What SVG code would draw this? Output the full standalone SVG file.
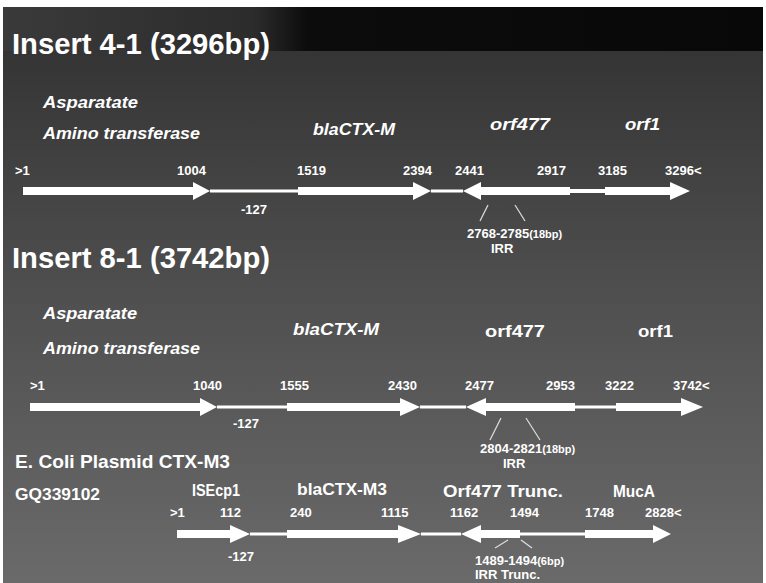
<svg xmlns="http://www.w3.org/2000/svg" width="766" height="583" viewBox="0 0 766 583">
<defs>
<linearGradient id="bg" x1="0" y1="0" x2="0" y2="1">
<stop offset="0" stop-color="#303030"/>
<stop offset="0.5" stop-color="#4f4f4f"/>
<stop offset="1" stop-color="#6a6a6a"/>
</linearGradient>
<linearGradient id="band" x1="0" y1="0" x2="1" y2="0">
<stop offset="0" stop-color="#3a3a3a"/>
<stop offset="0.33" stop-color="#2c2c2c"/>
<stop offset="0.4" stop-color="#0c0c0c"/>
<stop offset="1" stop-color="#080808"/>
</linearGradient>
<style>
text{font-family:"Liberation Sans",Arial,sans-serif;font-weight:bold;fill:#fff}
.title{font-size:29px}
.lab{font-size:16px}
.it{font-style:italic}
.num{font-size:13px}
.small{font-size:11px}
.thin{fill:#fff}
.arr{fill:#fff}
.irr{stroke:#ddd;stroke-width:1.2;fill:none}
</style>
</defs>
<rect x="0" y="0" width="766" height="583" fill="#fff"/>
<rect x="3" y="7" width="760" height="576" fill="url(#bg)"/>
<rect x="3" y="7" width="760" height="44" fill="url(#band)"/>

<g id="insert-4-1">
<text class="title" x="12" y="54" textLength="258" lengthAdjust="spacingAndGlyphs">Insert 4-1 (3296bp)</text>
<text class="lab it" x="43" y="108" textLength="95" lengthAdjust="spacingAndGlyphs">Asparatate</text>
<text class="lab it" x="43" y="139" textLength="157" lengthAdjust="spacingAndGlyphs">Amino transferase</text>
<text class="lab it" x="313" y="135" textLength="82" lengthAdjust="spacingAndGlyphs">blaCTX-M</text>
<text class="lab it" x="490" y="130" textLength="60" lengthAdjust="spacingAndGlyphs">orf477</text>
<text class="lab it" x="625" y="130" textLength="35" lengthAdjust="spacingAndGlyphs">orf1</text>
<g class="nums">
<text class="num" x="15" y="175">&gt;1</text>
<text class="num" x="177" y="175">1004</text>
<text class="num" x="297" y="175">1519</text>
<text class="num" x="403" y="175">2394</text>
<text class="num" x="455" y="175">2441</text>
<text class="num" x="537" y="175">2917</text>
<text class="num" x="598" y="175">3185</text>
<text class="num" x="665" y="175">3296&lt;</text>
</g>
<g class="connectors">
<polygon class="arr" points="23,187 193,187 193,182 210,191 193,200 193,195 23,195"/>
<rect class="thin" x="210" y="189.5" width="88" height="3"/>
<polygon class="arr" points="298,187 413,187 413,182 431,191 413,200 413,195 298,195"/>
<rect class="thin" x="431" y="189.5" width="32" height="3"/>
<polygon class="arr" points="463,191 481,182 481,187 570,187 570,195 481,195 481,200"/>
<rect class="thin" x="570" y="189" width="35" height="4"/>
<polygon class="arr" points="605,187 670,187 670,182 690,191 670,200 670,195 605,195"/>
<line class="irr" x1="488" y1="205" x2="480" y2="221"/>
<line class="irr" x1="515" y1="205" x2="525" y2="221"/>
</g>
<text class="num" x="241" y="214">-127</text>
<text class="num" x="467" y="238">2768-2785<tspan class="small">(18bp)</tspan></text>
<text class="num" x="491" y="253">IRR</text>
</g>

<g id="insert-8-1">
<text class="title" x="12" y="268" textLength="258" lengthAdjust="spacingAndGlyphs">Insert 8-1 (3742bp)</text>
<text class="lab it" x="43" y="319" textLength="94" lengthAdjust="spacingAndGlyphs">Asparatate</text>
<text class="lab it" x="43" y="354" textLength="157" lengthAdjust="spacingAndGlyphs">Amino transferase</text>
<text class="lab it" x="293" y="335" textLength="86" lengthAdjust="spacingAndGlyphs">blaCTX-M</text>
<text class="lab" x="485" y="337" textLength="60" lengthAdjust="spacingAndGlyphs">orf477</text>
<text class="lab" x="638" y="337" textLength="35" lengthAdjust="spacingAndGlyphs">orf1</text>
<g class="nums">
<text class="num" x="30" y="390">&gt;1</text>
<text class="num" x="193" y="390">1040</text>
<text class="num" x="280" y="390">1555</text>
<text class="num" x="388" y="390">2430</text>
<text class="num" x="465" y="390">2477</text>
<text class="num" x="546" y="390">2953</text>
<text class="num" x="605" y="390">3222</text>
<text class="num" x="673" y="390">3742&lt;</text>
</g>
<g class="connectors">
<polygon class="arr" points="30,403 200,403 200,398 217,407 200,416 200,411 30,411"/>
<rect class="thin" x="217" y="405.5" width="70" height="3"/>
<polygon class="arr" points="287,403 400,403 400,398 420,407 400,416 400,411 287,411"/>
<rect class="thin" x="420" y="405.5" width="46" height="3"/>
<polygon class="arr" points="466,407 486,398 486,403 575,403 575,411 486,411 486,416"/>
<rect class="thin" x="575" y="405.5" width="41" height="3"/>
<polygon class="arr" points="616,403 681,403 681,398 703,407 681,416 681,411 616,411"/>
<line class="irr" x1="501" y1="418" x2="490" y2="440"/>
<line class="irr" x1="526" y1="418" x2="540" y2="440"/>
</g>
<text class="num" x="233" y="428">-127</text>
<text class="num" x="480" y="453">2804-2821<tspan class="small">(18bp)</tspan></text>
<text class="num" x="503" y="468">IRR</text>
</g>

<g id="plasmid-ctx-m3">
<text x="15" y="468" style="font-size:19px" textLength="215" lengthAdjust="spacingAndGlyphs">E. Coli Plasmid CTX-M3</text>
<text x="15" y="500" style="font-size:17px" textLength="85" lengthAdjust="spacingAndGlyphs">GQ339102</text>
<text class="lab" x="192" y="496" textLength="48" lengthAdjust="spacingAndGlyphs">ISEcp1</text>
<text class="lab" x="297" y="495" textLength="90" lengthAdjust="spacingAndGlyphs">blaCTX-M3</text>
<text class="lab" x="443" y="497" textLength="120" lengthAdjust="spacingAndGlyphs">Orf477 Trunc.</text>
<text class="lab" x="613" y="497" textLength="42" lengthAdjust="spacingAndGlyphs">MucA</text>
<g class="nums">
<text class="num" x="170" y="517">&gt;1</text>
<text class="num" x="220" y="517">112</text>
<text class="num" x="290" y="517">240</text>
<text class="num" x="381" y="517">1115</text>
<text class="num" x="450" y="517">1162</text>
<text class="num" x="510" y="517">1494</text>
<text class="num" x="585" y="517">1748</text>
<text class="num" x="645" y="517">2828&lt;</text>
</g>
<g class="connectors">
<polygon class="arr" points="177,530 230,530 230,525 250,534 230,543 230,538 177,538"/>
<rect class="thin" x="250" y="532.5" width="37" height="3"/>
<polygon class="arr" points="287,530 398,530 398,525 421,534 398,543 398,538 287,538"/>
<rect class="thin" x="421" y="532.5" width="40" height="3"/>
<polygon class="arr" points="461,534 481,525 481,530 520,530 520,538 481,538 481,543"/>
<rect class="thin" x="520" y="532.5" width="65" height="3"/>
<polygon class="arr" points="585,530 653,530 653,525 671,534 653,543 653,538 585,538"/>
<line class="irr" x1="508" y1="540" x2="495" y2="548"/>
<line class="irr" x1="521" y1="540" x2="532" y2="548"/>
</g>
<text class="num" x="228" y="561">-127</text>
<text class="num" x="475" y="565">1489-1494<tspan class="small">(6bp)</tspan></text>
<text class="num" x="475" y="579">IRR Trunc.</text>
</g>
</svg>
